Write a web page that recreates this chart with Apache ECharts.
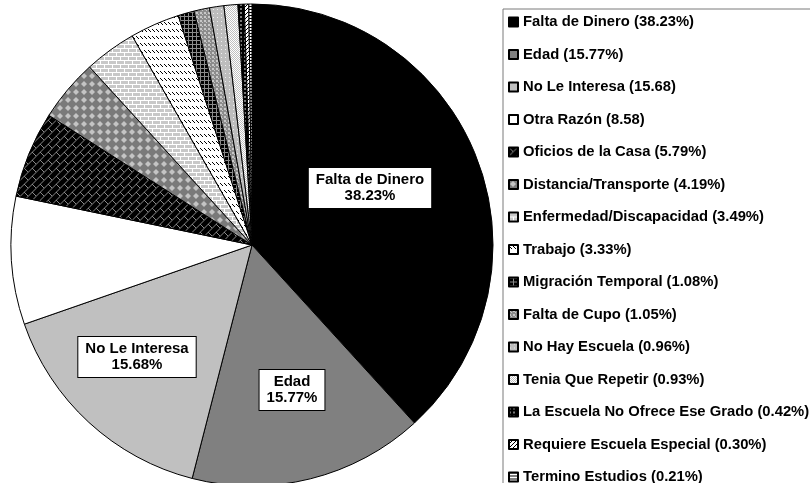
<!DOCTYPE html>
<html>
<head>
<meta charset="utf-8">
<script src="https://cdn.jsdelivr.net/npm/echarts@6/dist/echarts.min.js"></script>
<style>
html,body{margin:0;padding:0;background:#fff;}
#chart{width:810px;height:483px;}
</style>
</head>
<body>
<div id="chart"></div>
<script>
// ---- DATA ----
var categories = ["Falta de Dinero","Edad","No Le Interesa","Otra Razón","Oficios de la Casa","Distancia/Transporte","Enfermedad/Discapacidad","Trabajo","Migración Temporal","Falta de Cupo","No Hay Escuela","Tenia Que Repetir","La Escuela No Ofrece Ese Grado","Requiere Escuela Especial","Termino Estudios"];
var values = [38.23,15.77,15.68,8.58,5.79,4.19,3.49,3.33,1.08,1.05,0.96,0.93,0.42,0.30,0.21];
var legendLabels = ["Falta de Dinero (38.23%)","Edad (15.77%)","No Le Interesa (15.68)","Otra Razón (8.58)","Oficios de la Casa (5.79%)","Distancia/Transporte (4.19%)","Enfermedad/Discapacidad (3.49%)","Trabajo (3.33%)","Migración Temporal (1.08%)","Falta de Cupo (1.05%)","No Hay Escuela (0.96%)","Tenia Que Repetir (0.93%)","La Escuela No Ofrece Ese Grado (0.42%)","Requiere Escuela Especial (0.30%)","Termino Estudios (0.21%)"];
var labeledSlices = ["Falta de Dinero","Edad","No Le Interesa"];

// ---- STYLE ----
var CX = 252, CY = 245, R = 241;
// label box centres, relative to the pie centre (layout style)
var labelOffsets = {"Falta de Dinero":[118,-57], "Edad":[40,145], "No Le Interesa":[-115,112]};

function tile(w, h, bg, draw) {
  var c = document.createElement('canvas');
  c.width = w; c.height = h;
  var g = c.getContext('2d');
  g.fillStyle = bg; g.fillRect(0, 0, w, h);
  draw(g);
  return {image: c, repeat: 'repeat'};
}
function line(g, col, pts) {
  g.strokeStyle = col; g.lineWidth = 1; g.beginPath();
  for (var i = 0; i < pts.length; i += 4) { g.moveTo(pts[i], pts[i+1]); g.lineTo(pts[i+2], pts[i+3]); }
  g.stroke();
}
function px(g, col, list) { g.fillStyle = col; for (var i = 0; i < list.length; i += 2) g.fillRect(list[i], list[i+1], 1, 1); }

var fills = [
  '#000000',
  '#808080',
  '#c0c0c0',
  '#ffffff',
  tile(8, 8, '#000', function(g){ line(g, '#8a8a8a', [0,8.5,8.5,0, -0.5,-0.5,4,4]); }),
  tile(8, 8, '#7a7a7a', function(g){ g.fillStyle = '#c4c4c4'; g.beginPath(); g.moveTo(4,1); g.lineTo(7,4); g.lineTo(4,7); g.lineTo(1,4); g.closePath(); g.fill(); }),
  tile(8, 8, '#c8c8c8', function(g){ g.fillStyle = '#fff'; g.fillRect(0,0,8,1); g.fillRect(0,4,8,1); g.fillRect(0,0,1,4); g.fillRect(4,4,1,4); }),
  tile(4, 7, '#fff', function(g){ px(g, '#000', [0,1,1,2,2,3]); }),
  tile(4, 4, '#000', function(g){ g.fillStyle = '#8a8a8a'; g.fillRect(0,0,4,1); g.fillRect(0,0,1,4); }),
  tile(4, 4, '#8c8c8c', function(g){ g.fillStyle = '#c8c8c8'; g.fillRect(0,0,2,2); g.fillRect(2,2,1,1); }),
  tile(4, 4, '#bdbdbd', function(g){ px(g, '#f0f0f0', [1,1]); }),
  tile(2, 2, '#fff', function(g){ px(g, '#c0c0c0', [0,0,1,1]); }),
  tile(4, 4, '#000', function(g){ g.fillStyle = '#7a7a7a'; g.fillRect(0,0,2,2); }),
  tile(4, 4, '#fff', function(g){ px(g, '#000', [3,0,2,1,1,2,0,3]); }),
  tile(3, 3, '#fff', function(g){ g.fillStyle = '#000'; g.fillRect(0,0,3,1); })
];

var data = categories.map(function(name, i){
  return {
    name: name,
    value: values[i],
    itemStyle: {color: fills[i]},
    label: {show: labeledSlices.indexOf(name) >= 0}
  };
});

var chart = echarts.init(document.getElementById('chart'), null, {renderer: 'canvas'});
chart.setOption({
  animation: false,
  backgroundColor: '#ffffff',
  legend: {
    orient: 'vertical',
    left: 503,
    top: 9,
    height: 540,
    padding: [4, 40, 40, 5],
    borderColor: '#7a7a7a',
    borderWidth: 1,
    itemWidth: 9,
    itemHeight: 9,
    itemGap: 14.5,
    icon: 'rect',
    selectedMode: false,
    data: categories,
    formatter: function(name){ return legendLabels[categories.indexOf(name)]; },
    textStyle: {fontFamily: 'Liberation Sans, Arial, sans-serif', fontWeight: 'bold', fontSize: 14.8, color: '#000', lineHeight: 18}
  },
  series: [{
    type: 'pie',
    center: [CX, CY],
    radius: R,
    startAngle: 90,
    clockwise: true,
    avoidLabelOverlap: false,
    minShowLabelAngle: 0,
    emphasis: {disabled: true},
    itemStyle: {borderColor: '#000', borderWidth: 1},
    labelLine: {show: false},
    label: {
      position: 'inside',
      formatter: function(p){ return p.name + '\n' + p.value.toFixed(2) + '%'; },
      fontFamily: 'Liberation Sans, Arial, sans-serif',
      fontWeight: 'bold',
      fontSize: 15,
      lineHeight: 16,
      color: '#000',
      align: 'center',
      backgroundColor: '#fff',
      borderColor: '#000',
      borderWidth: 1,
      padding: [4, 7]
    },
    labelLayout: function(p){
      var o = labelOffsets[categories[p.dataIndex]];
      if (!o) return {};
      return {x: CX + o[0], y: CY + o[1], align: 'center', verticalAlign: 'middle'};
    },
    data: data
  }]
});
</script>
</body>
</html>
